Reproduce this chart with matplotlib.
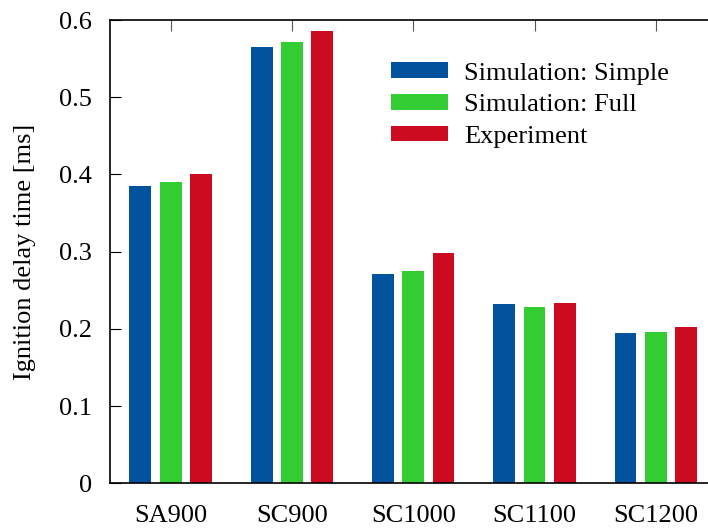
import numpy as np
import matplotlib
matplotlib.use('Agg')
import matplotlib.pyplot as plt

plt.rcParams['font.family'] = ['Liberation Serif', 'DejaVu Serif']
plt.rcParams['font.size'] = 19

cases = ['SA900', 'SC900', 'SC1000', 'SC1100', 'SC1200']
sim_simple = [0.385, 0.565, 0.271, 0.232, 0.195]
sim_full = [0.390, 0.571, 0.275, 0.228, 0.196]
experiment = [0.401, 0.586, 0.298, 0.234, 0.202]

series = [
    ('Simulation: Simple', sim_simple, '#00539c'),
    ('Simulation: Full', sim_full, '#33cc33'),
    ('Experiment', experiment, '#cc0a20'),
]

fig = plt.figure(figsize=(7.08, 5.28), dpi=100)
ax = fig.add_axes([0.1554, 0.0847, 0.8446, 0.8774])

x = np.arange(len(cases))
width = 0.18
offsets = [-0.25, 0.0, 0.25]
for (label, vals, color), off in zip(series, offsets):
    ax.bar(x + off, vals, width, color=color, label=label)

ax.set_xlim(-0.5, 4.43)
ax.set_ylim(0, 0.6)
ax.set_yticks(np.arange(0, 0.61, 0.1))
ax.set_yticklabels(['0', '0.1', '0.2', '0.3', '0.4', '0.5', '0.6'])
ax.set_xticks(x)
ax.set_xticklabels(cases)
ax.tick_params(axis='x', bottom=False, top=True, labelbottom=True,
               direction='in', length=8, color='#555555', pad=15.5)
ax.tick_params(axis='y', left=True, right=False, direction='in',
               length=8, pad=13)
ax.spines['right'].set_visible(False)
for s in ['left', 'top', 'bottom']:
    ax.spines[s].set_linewidth(1.2)

ax.set_ylabel('Ignition delay time [ms]', labelpad=16.5)

ax.legend(loc='upper left', bbox_to_anchor=(0.448, 0.937), frameon=False,
          borderpad=0, handlelength=2.16, handleheight=0.53,
          handletextpad=0.6, labelspacing=0.36)

fig.savefig('out.png', dpi=100)
